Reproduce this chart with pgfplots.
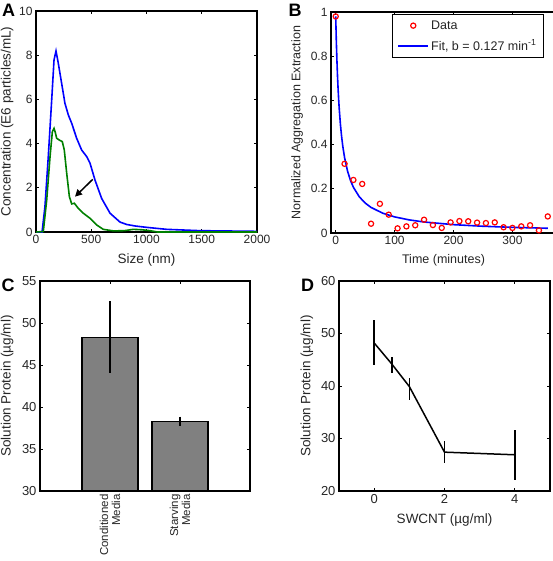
\documentclass[border=0pt]{standalone}
\usepackage{pgfplots}
\pgfplotsset{compat=1.18}
\usepackage{fontspec}
\setmainfont{Liberation Sans}
\usetikzlibrary{arrows.meta}
\definecolor{mgreen}{rgb}{0,0.5,0}
\definecolor{txt}{rgb}{0.15,0.15,0.15}
\pgfplotsset{
  panel/.style={
    scale only axis,
    anchor=south west,
    axis line style={line width=1.2pt,black},
    tick style={line width=1pt,black},
    major tick length=3pt,
    tick align=inside,
    tick pos=both,
    scaled ticks=false,
    /pgf/number format/assume math mode=true,
    /pgf/number format/1000 sep={},
    ticklabel style={text=txt},
    label style={text=txt},
    ylabel style={anchor=center},
    xlabel style={anchor=center},
    clip=true,
  }
}
\begin{document}
\begin{tikzpicture}
% ---------------- A ----------------
\begin{axis}[panel,
  at={(36pt,-232pt)}, width=221pt, height=221pt,
  xmin=0, xmax=2000, ymin=0, ymax=10,
  xtick={0,500,1000,1500,2000}, ytick={0,2,4,6,8,10},
  ticklabel style={font=\fontsize{12}{12}\selectfont},
  label style={font=\fontsize{13.5}{13.5}\selectfont},
  xlabel={Size (nm)}, ylabel={Concentration (E6 particles/mL)},
  xlabel style={at={(axis description cs:0.5,-0.127)}},
  ylabel style={at={(axis description cs:-0.131,0.5)}},
]
\addplot[blue, line width=1.6pt, mark=none] coordinates {
(0,0) (55,0) (81,1.15) (111,3.4) (142,5.97) (163,7.78) (181,8.19) (202,7.63)
(232,6.73) (262,5.82) (293,5.29) (323,4.92) (368,4.24) (413,3.71) (459,3.41)
(489,3.11) (534,2.35) (594,1.52) (670,0.85) (760,0.45) (821,0.34) (900,0.27)
(1002,0.21) (1183,0.12) (1484,0.06) (2000,0.03)};
\addplot[mgreen, line width=1.6pt, mark=none] coordinates {
(0,0) (66,0.02) (97,1.45) (127,3.41) (148,4.54) (163,4.69) (175,4.5) (187,4.24)
(211,4.16) (238,4.09) (256,3.71) (278,2.65) (302,1.6) (323,1.27) (347,1.30)
(383,1.07) (428,0.85) (489,0.62) (549,0.32) (609,0.12) (700,0.05) (800,0.06)
(880,0.12) (960,0.1) (1032,0.06) (1100,0) (2000,0)};
\draw[line width=1.5pt, -{Triangle[length=7pt,width=7pt]}] (axis cs:513,2.38) -- (axis cs:353,1.6);
\end{axis}
% ---------------- B ----------------
\begin{axis}[panel,
  at={(331pt,-233pt)}, width=225pt, height=221pt,
  xmin=-8, xmax=374, ymin=0, ymax=1,
  xtick={0,100,200,300}, ytick={0,0.2,0.4,0.6,0.8,1},
  yticklabels={0,0.2,0.4,0.6,0.8,1},
  ticklabel style={font=\fontsize{12}{12}\selectfont},
  label style={font=\fontsize{12.5}{12.5}\selectfont},
  xlabel={Time (minutes)}, ylabel={Normalized Aggregation Extraction},
  xlabel style={at={(axis description cs:0.5,-0.122)}},
  ylabel style={at={(axis description cs:-0.151,0.5)}},
  legend style={at={(0.9465,0.991)}, anchor=north east, draw=black, very thick,
    font=\fontsize{12.5}{12.5}\selectfont, inner xsep=5pt, inner ysep=4pt,
    row sep=5pt},
  legend cell align=left,
]
\addplot[only marks, mark=o, red, mark size=2.6pt, line width=1.2pt,
  legend image code/.code={\draw[red, line width=1.2pt, mark=o, mark size=2.6pt] plot coordinates {(15pt,0pt)};}] coordinates {
(0,0.98) (15,0.313) (30,0.24) (45,0.222) (60,0.042) (75,0.132) (90,0.083)
(105,0.021) (120,0.03) (135,0.035) (150,0.06) (165,0.036) (180,0.023) (195,0.048)
(210,0.054) (225,0.053) (240,0.047) (255,0.045) (270,0.048) (285,0.026) (300,0.023)
(315,0.03) (330,0.035) (345,0.012) (360,0.075)};
\addlegendentry{\color{txt}Data}
\addplot[blue, line width=1.6pt, mark=none,
  legend image code/.code={\draw[draw=blue, line width=1.8pt] (0pt,0pt) -- (30pt,0pt);}] coordinates {
(0,0.98) (1,0.8715) (2,0.7846) (3,0.7135) (4,0.6542) (5,0.6040) (6,0.5610)
(8,0.4910) (10,0.4365) (12,0.3929) (15,0.3418) (20,0.2808) (25,0.2383)
(30,0.2070) (40,0.1639) (50,0.1356) (60,0.1157) (80,0.0894) (100,0.0729)
(125,0.0592) (150,0.0498) (200,0.0378) (250,0.0305) (300,0.0256) (360,0.0214)};
\addlegendentry{\color{txt}Fit, b = 0.127 min\textsuperscript{-1}}
\end{axis}
% ---------------- C ----------------
\begin{axis}[panel,
  at={(40pt,-491pt)}, width=210pt, height=210pt,
  xmin=0, xmax=3, ymin=30, ymax=55,
  xtick={1,2}, xticklabels={Conditioned\\Media, Starving\\Media},
  ytick={30,35,40,45,50,55},
  ticklabel style={font=\fontsize{13}{13}\selectfont},
  xticklabel style={rotate=90, anchor=east, align=right, font=\fontsize{11.5}{12}\selectfont},
  label style={font=\fontsize{13.5}{13.5}\selectfont},
  ylabel={Solution Protein (µg/ml)},
  ylabel style={at={(axis description cs:-0.157,0.5)}},
]
\addplot[ybar, bar width=0.8, fill=black!50, draw=black, line width=1.2pt,
  error bars/.cd, y dir=both, y explicit, error mark=none,
  error bar style={line width=1.5pt, black}] coordinates {
(1,48.3) += (0,4.3) -= (0,4.2)
(2,38.3) += (0,0.55) -= (0,0.55)};
\end{axis}
% ---------------- D ----------------
\begin{axis}[panel,
  at={(339pt,-491pt)}, width=211pt, height=210pt,
  xmin=-1, xmax=5, ymin=20, ymax=60,
  xtick={0,2,4}, ytick={20,30,40,50,60},
  ticklabel style={font=\fontsize{13}{13}\selectfont},
  label style={font=\fontsize{13.5}{13.5}\selectfont},
  xlabel={SWCNT (µg/ml)}, ylabel={Solution Protein (µg/ml)},
  xlabel style={at={(axis description cs:0.5,-0.14)}},
  ylabel style={at={(axis description cs:-0.152,0.5)}},
]
\addplot[black, line width=1.5pt, mark=none,
  error bars/.cd, y dir=both, y explicit, error mark=none,
  error bar style={line width=1.5pt, black}] coordinates {
(0,48.2) += (0,4.4) -= (0,4.2)
(0.5,44.2) += (0,1.3) -= (0,1.8)
(1,39.9) += (0,1.7) -= (0,2.5)
(2,27.4) += (0,2.2) -= (0,2.1)
(4,26.9) += (0,4.7) -= (0,4.8)};
\end{axis}
% panel letters
\node[inner sep=0pt, anchor=center, font=\fontsize{18}{18}\selectfont\bfseries] at (8.5pt,-10.3pt) {A};
\node[inner sep=0pt, anchor=center, font=\fontsize{18}{18}\selectfont\bfseries] at (295pt,-10.3pt) {B};
\node[inner sep=0pt, anchor=center, font=\fontsize{18}{18}\selectfont\bfseries] at (8pt,-285.5pt) {C};
\node[inner sep=0pt, anchor=center, font=\fontsize{18}{18}\selectfont\bfseries] at (307.5pt,-285.5pt) {D};
\pgfresetboundingbox
\path[use as bounding box] (0pt,0pt) rectangle (552pt,-561pt);
\end{tikzpicture}
\end{document}
